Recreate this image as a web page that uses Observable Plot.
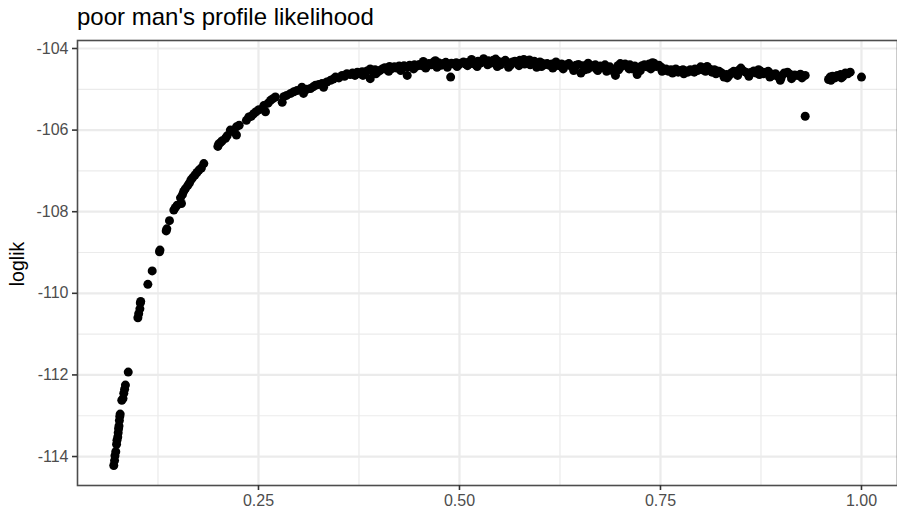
<!DOCTYPE html>
<html>
<head>
<meta charset="utf-8">
<script src="https://cdn.jsdelivr.net/npm/d3@7"></script>
<script src="https://cdn.jsdelivr.net/npm/@observablehq/plot@0.6"></script>
<style>
  body { margin: 0; background: #fff; font-family: "Liberation Sans", Arial, sans-serif; }
  #wrap { position: relative; width: 897px; height: 510px; overflow: hidden; background: #fff; }
  #title { position: absolute; left: 77px; top: 2px; height: 30px; line-height: 30px; font-size: 24px; color: #000; white-space: nowrap; z-index: 2; }
  #chart { position: absolute; left: 0; top: 30px; z-index: 1; }
  #ylab { position: absolute; left: 17px; top: 264px; transform: translate(-50%, -50%) rotate(-90deg); font-size: 19.5px; color: #000; white-space: nowrap; z-index: 2; }
</style>
</head>
<body>
<div id="wrap">
  <div id="title">poor man's profile likelihood</div>
  <div id="chart"></div>
  <div id="ylab">loglik</div>
</div>
<script>
// Steep rising part
const thetaRise = [0.070,0.071,0.0715,0.0725,0.0735,0.074,0.075,0.0755,0.076,0.0765,0.077,0.0775,0.078,0.080,0.0815,0.0825,0.0835,0.0845,0.088,
  0.100,0.101,0.1025,0.103,0.1035,0.1124,0.1178,0.1269,0.1275,0.1352,0.136,0.1393,0.1447,0.1465,0.1489,0.1542,0.153,0.1555,0.157,0.159,0.162,0.164,0.166,0.168,0.171,0.1735,0.176,0.179,0.182,
  0.1995,0.2006,0.203,0.205,0.209,0.211,0.215,0.219,0.2226,0.2226,0.226,0.235,0.238,0.241,0.244,0.247,0.2504,0.2566,0.2587,0.262,0.265,0.268,0.271,0.2795,0.2815,0.285,0.290,0.294,0.298,0.304,0.306,0.310,0.3147,0.318,0.321,0.325,0.329,0.331,0.335,0.3396,0.343,0.3458,0.350,0.354,0.357,0.360];
const loglikRise = [-114.22,-114.10,-113.98,-113.88,-113.70,-113.60,-113.52,-113.42,-113.32,-113.25,-113.12,-113.02,-112.96,-112.62,-112.58,-112.45,-112.35,-112.25,-111.93,
  -110.60,-110.50,-110.38,-110.24,-110.20,-109.78,-109.45,-108.98,-108.94,-108.47,-108.42,-108.22,-107.96,-107.90,-107.84,-107.80,-107.66,-107.58,-107.50,-107.44,-107.36,-107.30,-107.22,-107.17,-107.10,-107.04,-106.98,-106.93,-106.82,
  -106.40,-106.34,-106.30,-106.26,-106.20,-106.14,-106.00,-106.04,-106.12,-105.92,-105.88,-105.76,-105.68,-105.66,-105.60,-105.55,-105.50,-105.40,-105.55,-105.34,-105.27,-105.23,-105.19,-105.32,-105.18,-105.15,-105.10,-105.06,-105.03,-104.95,-105.10,-105.00,-104.98,-104.94,-104.90,-104.88,-104.86,-104.95,-104.82,-104.78,-104.75,-104.70,-104.72,-104.66,-104.68,-104.62];

// Plateau part
const thetaFlat = [0.364,0.367,0.370,0.373,0.376,0.379,0.382,0.385,0.389,0.389,0.392,0.395,0.398,0.401,0.404,0.407,0.410,0.413,0.416,0.419,0.422,0.425,0.428,0.431,0.435,0.435,0.438,0.441,0.444,0.447,0.450,0.453,0.456,0.459,0.462,0.465,0.468,0.471,0.474,0.477,0.480,0.483,0.486,0.489,0.490,0.493,0.496,0.499,
  0.502,0.505,0.508,0.511,0.514,0.517,0.520,0.523,0.526,0.530,0.533,0.536,0.539,0.542,0.545,0.548,0.551,0.554,0.557,0.560,0.563,0.566,0.569,0.572,0.575,0.578,0.581,0.584,0.587,0.590,0.593,0.596,0.597,0.600,0.603,0.606,0.609,0.612,0.615,0.618,0.621,0.624,0.627,0.630,0.633,0.636,0.639,0.642,0.645,0.648,0.651,0.654,0.657,0.660,0.663,0.666,0.669,0.672,0.675,0.678,0.681,0.684,0.687,0.690,0.694,0.697,
  0.700,0.703,0.706,0.709,0.712,0.715,0.718,0.721,0.724,0.727,0.730,0.733,0.736,0.739,0.742,0.745,0.748,0.751,0.754,0.757,0.760,0.763,0.766,0.769,0.772,0.775,0.778,0.781,0.784,0.787,0.790,0.793,0.796,0.799,
  0.802,0.805,0.808,0.811,0.814,0.817,0.820,0.823,0.826,0.829,0.832,0.835,0.838,0.841,0.844,0.847,0.850,0.853,0.856,0.859,0.862,0.866,0.869,0.872,0.875,0.878,0.881,0.884,0.887,0.890,0.893,0.896,0.899,
  0.901,0.904,0.908,0.911,0.914,0.917,0.920,0.924,0.927,0.930,0.930,0.959,0.961,0.964,0.967,0.970,0.974,0.977,0.980,0.983,0.986,1.000];
const loglikFlat = [-104.64,-104.60,-104.66,-104.58,-104.62,-104.57,-104.60,-104.55,-104.74,-104.50,-104.56,-104.52,-104.58,-104.54,-104.50,-104.47,-104.52,-104.44,-104.49,-104.45,-104.48,-104.43,-104.47,-104.42,-104.66,-104.46,-104.41,-104.44,-104.40,-104.43,-104.39,-104.42,-104.38,-104.45,-104.37,-104.40,-104.33,-104.38,-104.35,-104.41,-104.37,-104.34,-104.39,-104.70,-104.36,-104.38,-104.35,-104.40,
  -104.36,-104.33,-104.38,-104.34,-104.37,-104.35,-104.40,-104.31,-104.36,-104.25,-104.33,-104.30,-104.36,-104.29,-104.34,-104.31,-104.40,-104.33,-104.29,-104.35,-104.42,-104.33,-104.31,-104.37,-104.29,-104.34,-104.38,-104.32,-104.28,-104.35,-104.31,-104.46,-104.38,-104.33,-104.36,-104.40,-104.37,-104.41,-104.38,-104.44,-104.37,-104.42,-104.38,-104.45,-104.40,-104.37,-104.43,-104.54,-104.41,-104.39,-104.60,-104.42,-104.45,-104.50,-104.41,-104.44,-104.40,-104.54,-104.43,-104.46,-104.40,-104.50,-104.45,-104.54,-104.66,-104.42,
  -104.46,-104.41,-104.38,-104.44,-104.40,-104.50,-104.43,-104.64,-104.46,-104.42,-104.40,-104.45,-104.38,-104.43,-104.36,-104.44,-104.41,-104.46,-104.54,-104.50,-104.56,-104.52,-104.54,-104.50,-104.58,-104.54,-104.52,-104.55,-104.58,-104.52,-104.55,-104.50,-104.54,-104.49,
  -104.52,-104.47,-104.44,-104.50,-104.58,-104.52,-104.55,-104.56,-104.60,-104.70,-104.64,-104.67,-104.60,-104.56,-104.62,-104.54,-104.50,-104.55,-104.58,-104.62,-104.59,-104.55,-104.60,-104.52,-104.56,-104.62,-104.58,-104.56,-104.62,-104.66,-104.62,-104.68,-104.78,
  -104.66,-104.60,-104.58,-104.63,-104.69,-104.65,-104.66,-104.63,-104.68,-104.66,-105.66,-104.76,-104.70,-104.68,-104.72,-104.66,-104.64,-104.68,-104.60,-104.62,-104.58,-104.70];

// Extra plateau points (scatter above/below the band)
const thetaFlatExtra = [0.380,0.396,0.412,0.427,0.443,0.458,0.472,0.485,0.497,0.510,0.522,0.535,0.547,0.561,0.574,0.588,0.602,0.616,0.629,0.643,0.656,0.670,0.683,0.698,0.711,0.725,0.738,0.752,0.765,0.779,0.792,0.806,0.819,0.833,0.846,0.860,0.873,0.886,0.900,0.913,0.926,0.962,0.975,
  0.455,0.470,0.515,0.545,0.580,0.620,0.660,0.700,0.740,0.800,0.850];
const loglikFlatExtra = [-104.66,-104.62,-104.56,-104.54,-104.50,-104.48,-104.46,-104.46,-104.44,-104.42,-104.44,-104.40,-104.44,-104.46,-104.42,-104.40,-104.44,-104.48,-104.50,-104.48,-104.52,-104.50,-104.56,-104.52,-104.50,-104.54,-104.50,-104.56,-104.60,-104.62,-104.58,-104.56,-104.62,-104.72,-104.66,-104.68,-104.64,-104.70,-104.72,-104.74,-104.72,-104.78,-104.72,
  -104.32,-104.30,-104.27,-104.26,-104.27,-104.33,-104.36,-104.37,-104.35,-104.45,-104.48];

const xTicks = [0.25, 0.50, 0.75, 1.00];
const xMinor = [0.125, 0.375, 0.625, 0.875];
const yTicks = [-114, -112, -110, -108, -106, -104];
const yMinor = [-113, -111, -109, -107, -105];

const points = [];
thetaRise.forEach((t, i) => points.push({theta: t, loglik: loglikRise[i]}));
thetaFlat.forEach((t, i) => points.push({theta: t, loglik: loglikFlat[i]}));
thetaFlatExtra.forEach((t, i) => points.push({theta: t, loglik: loglikFlatExtra[i]}));

const chart = Plot.plot({
  width: 897,
  height: 480,
  marginLeft: 77,
  marginRight: 0,
  marginTop: 10,
  marginBottom: 25,
  style: { fontFamily: "'Liberation Sans', Arial, sans-serif", fontSize: "16px", background: "#fff", overflow: "visible" },
  x: { domain: [0.0249, 1.0448] },
  y: { domain: [-114.71, -103.804] },
  marks: [
    Plot.gridX(xMinor, { stroke: "#EBEBEB", strokeOpacity: 1, strokeWidth: 1.2 }),
    Plot.gridY(yMinor, { stroke: "#EBEBEB", strokeOpacity: 1, strokeWidth: 1.2 }),
    Plot.gridX(xTicks, { stroke: "#EBEBEB", strokeOpacity: 1, strokeWidth: 2.2 }),
    Plot.gridY(yTicks, { stroke: "#EBEBEB", strokeOpacity: 1, strokeWidth: 2.2 }),
    Plot.dot(points, { x: "theta", y: "loglik", r: 4.5, fill: "#000", stroke: "none" }),
    Plot.frame({ stroke: "#4d4d4d", strokeWidth: 1.6 }),
    Plot.axisX(xTicks, { tickSize: 5, tickPadding: 4, tickFormat: d => d.toFixed(2), fill: "#4D4D4D", stroke: "#333", strokeWidth: 1.6, fontSize: 16, label: null }),
    Plot.axisY(yTicks, { tickSize: 5, tickPadding: 4, tickFormat: d => String(d), fill: "#4D4D4D", stroke: "#333", strokeWidth: 1.6, fontSize: 16, label: null })
  ]
});
document.getElementById("chart").appendChild(chart);
</script>
</body>
</html>
